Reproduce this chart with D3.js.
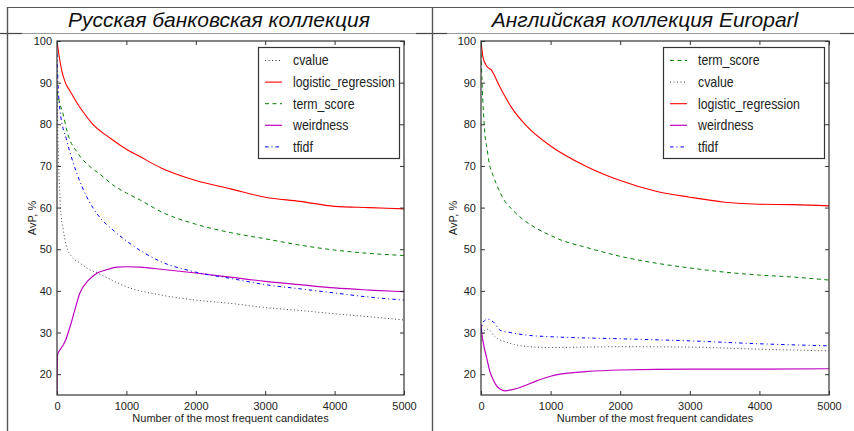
<!DOCTYPE html>
<html>
<head>
<meta charset="utf-8">
<script src="https://cdn.jsdelivr.net/npm/d3@7"></script>
<style>
  body { margin: 0; background: #fff; }
  svg { display: block; }
  text { font-family: "Liberation Sans", Arial, sans-serif; fill: #222; }
  .title { font-style: italic; font-size: 21px; fill: #111; }
  .tick text { font-size: 11px; }
  .axis-label { font-size: 11px; }
  .legend text { font-size: 14px; }
</style>
</head>
<body>
<div id="chart"></div>
<script>
// x ticks / y ticks shared by both panels
const xTicks = [0, 1000, 2000, 3000, 4000, 5000];
const yTicks = [20, 30, 40, 50, 60, 70, 80, 90, 100];

// Russian banking collection: [candidates, AvP %]
const ruCvalue = [[0, 92], [10, 80], [25, 70], [50, 60], [87, 55], [140, 50.5], [200, 48.5], [330, 46.7], [450, 45.3], [620, 44], [800, 42.5], [1000, 41], [1500, 39], [2000, 37.8], [2500, 37], [3000, 36], [3500, 35.3], [4000, 34.5], [4500, 33.8], [5000, 33]];
const ruLogistic = [[0, 100], [25, 97], [67, 93], [120, 90], [187, 88], [300, 84.8], [375, 83], [500, 80.3], [764, 76.7], [1000, 74], [1200, 72.2], [1500, 69.5], [2000, 66.5], [2500, 64.5], [3000, 62.5], [3500, 61.5], [4000, 60.3], [4500, 60], [5000, 59.7]];
const ruTerm = [[0, 88], [40, 85], [87, 82.5], [150, 78], [303, 73], [500, 69.5], [620, 68], [800, 65.5], [1000, 63.5], [1200, 61.8], [1500, 59], [2000, 56], [2500, 54], [3000, 52.5], [3500, 51], [4000, 49.8], [4500, 49], [5000, 48.5]];
const ruWeird = [[0, 15], [5, 24.5], [50, 26], [90, 27], [120, 28], [190, 31.5], [250, 35], [330, 39.5], [450, 42.5], [570, 44.2], [700, 45], [860, 45.7], [1000, 45.8], [1200, 45.7], [1500, 45.2], [2000, 44.3], [2500, 43.3], [3000, 42.3], [3500, 41.5], [4000, 40.7], [4500, 40.2], [5000, 39.8]];
const ruTfidf = [[0, 97], [20, 88], [43, 83.4], [139, 76.2], [284, 68.3], [428, 62.6], [600, 58], [808, 54.6], [1000, 52], [1500, 47], [2000, 44.5], [2500, 43], [3000, 41.5], [3500, 40.5], [4000, 39.5], [4500, 38.5], [5000, 37.8]];

// English Europarl collection
const enTerm = [[0, 97], [15, 90], [35, 83], [60, 77], [82, 74.7], [120, 70.5], [178, 67.5], [250, 64.5], [325, 62], [450, 59.5], [600, 57.2], [800, 55], [1000, 53.3], [1135, 52.3], [1500, 50.5], [2000, 48.3], [2500, 46.7], [3000, 45.5], [3500, 44.5], [4000, 43.8], [4500, 43.3], [5000, 42.6]];
const enCvalue = [[0, 28], [50, 30.5], [100, 30.8], [200, 29], [400, 27.5], [700, 26.6], [1000, 26.4], [1500, 26.5], [2000, 26.6], [3000, 26.5], [4000, 26], [5000, 25.6]];
const enLogistic = [[0, 100], [30, 96], [80, 94], [150, 93], [270, 89], [440, 84], [660, 79.5], [1000, 74.8], [1500, 70], [2000, 66.5], [2500, 64], [3000, 62.5], [3500, 61.3], [4000, 60.8], [4500, 60.7], [5000, 60.4]];
const enWeird = [[0, 32], [10, 30], [33, 27.5], [80, 24], [130, 20.5], [180, 18.5], [225, 17.2], [300, 16.2], [345, 16], [450, 16.3], [560, 16.8], [800, 18.4], [1000, 19.5], [1135, 20], [1500, 20.6], [2000, 21], [3000, 21.2], [4000, 21.2], [5000, 21.3]];
const enTfidf = [[0, 30], [30, 32.5], [100, 33.2], [180, 32.5], [280, 30.5], [420, 30], [700, 29.3], [1000, 29], [2000, 28.5], [3000, 28], [4000, 27.3], [5000, 26.8]];

const styles = {
  cvalue: { color: "#444", dash: "1,2.5", width: 1 },
  logistic_regression: { color: "#ff0000", dash: null, width: 1.1 },
  term_score: { color: "#008000", dash: "4,3.5", width: 1 },
  weirdness: { color: "#bf00bf", dash: null, width: 1.2 },
  tfidf: { color: "#0000ff", dash: "3.5,3,1,3", width: 1 },
};

const panels = [
  {
    title: "Русская банковская коллекция", titleX: 219,
    left: 57, right: 404, labelX: 32, legendX: 258, legendW: 141,
    series: [["cvalue", ruCvalue], ["logistic_regression", ruLogistic], ["term_score", ruTerm], ["weirdness", ruWeird], ["tfidf", ruTfidf]],
  },
  {
    title: "Английская коллекция Europarl", titleX: 645,
    left: 481, right: 829, labelX: 453, legendX: 663, legendW: 161,
    series: [["term_score", enTerm], ["cvalue", enCvalue], ["logistic_regression", enLogistic], ["weirdness", enWeird], ["tfidf", enTfidf]],
  },
];

const width = 854, height = 431;
const plotTop = 41, plotBottom = 395;

const svg = d3.select("#chart").append("svg")
  .attr("width", width).attr("height", height);

// table frame around the two panels
const frame = svg.append("g").attr("class", "frame");
frame.append("line").attr("x1", 7).attr("x2", width).attr("y1", 7.5).attr("y2", 7.5)
  .attr("stroke", "#555").attr("stroke-width", 1.2);
frame.append("line").attr("x1", 7).attr("x2", width).attr("y1", 33.5).attr("y2", 33.5)
  .attr("stroke", "#999").attr("stroke-width", 1);
[[0, 22], [416, 447], [840, 854]].forEach(([a, b]) => {
  frame.append("line").attr("x1", a).attr("x2", b).attr("y1", 33.5).attr("y2", 33.5)
    .attr("stroke", "#444").attr("stroke-width", 1.2);
});
[7.5, 432.5].forEach((x) => {
  frame.append("line").attr("x1", x).attr("x2", x).attr("y1", 7).attr("y2", height)
    .attr("stroke", "#555").attr("stroke-width", 1.4);
});

panels.forEach((p) => {
  const g = svg.append("g");

  g.append("text").attr("class", "title")
    .attr("x", p.titleX).attr("y", 27)
    .attr("text-anchor", "middle")
    .text(p.title);

  const x = d3.scaleLinear().domain([0, 5000]).range([p.left, p.right]);
  const y = d3.scaleLinear().domain([15, 100]).range([plotBottom, plotTop]);

  const line = d3.line()
    .x((d) => x(d[0]))
    .y((d) => y(d[1]))
    .curve(d3.curveMonotoneX);

  const plot = g.append("g");
  plot.append("defs").append("clipPath").attr("id", "clip" + p.left)
    .append("rect").attr("x", p.left).attr("y", plotTop)
    .attr("width", p.right - p.left).attr("height", plotBottom - plotTop);

  const lines = plot.append("g").attr("clip-path", `url(#clip${p.left})`);
  p.series.forEach(([name, data]) => {
    const s = styles[name];
    lines.append("path")
      .datum(data)
      .attr("fill", "none")
      .attr("stroke", s.color)
      .attr("stroke-width", s.width)
      .attr("stroke-dasharray", s.dash)
      .attr("d", line);
  });

  // axes with inward ticks on all four sides
  const axisBottom = d3.axisBottom(x).tickValues(xTicks).tickFormat(d3.format("d"))
    .tickSizeInner(-4).tickSizeOuter(0).tickPadding(7);
  const axisTop = d3.axisTop(x).tickValues(xTicks).tickSizeInner(-4).tickSizeOuter(0).tickFormat("");
  const axisLeft = d3.axisLeft(y).tickValues(yTicks).tickSizeInner(-4).tickSizeOuter(0).tickPadding(5);
  const axisRight = d3.axisRight(y).tickValues(yTicks).tickSizeInner(-4).tickSizeOuter(0).tickFormat("");

  const styleAxis = (sel) => {
    sel.select(".domain").remove();
    sel.selectAll(".tick line").attr("stroke", "#333");
    sel.selectAll(".tick text").attr("fill", "#222");
    sel.attr("font-family", null).attr("font-size", null);
  };
  g.append("g").attr("transform", `translate(0,${plotBottom})`).call(axisBottom).call(styleAxis);
  g.append("g").attr("transform", `translate(0,${plotTop})`).call(axisTop).call(styleAxis);
  g.append("g").attr("transform", `translate(${p.left},0)`).call(axisLeft).call(styleAxis);
  g.append("g").attr("transform", `translate(${p.right},0)`).call(axisRight).call(styleAxis);

  g.append("rect")
    .attr("x", p.left).attr("y", plotTop)
    .attr("width", p.right - p.left).attr("height", plotBottom - plotTop)
    .attr("fill", "none").attr("stroke", "#333").attr("stroke-width", 1.2);

  g.append("text").attr("class", "axis-label")
    .attr("x", (p.left + p.right) / 2).attr("y", 422)
    .attr("text-anchor", "middle")
    .text("Number of the most frequent candidates");

  g.append("text").attr("class", "axis-label")
    .attr("transform", `translate(${p.labelX},${(plotTop + plotBottom) / 2}) rotate(-90)`)
    .attr("text-anchor", "middle")
    .attr("dy", "0.35em")
    .text("AvP, %");

  // legend
  const lg = g.append("g").attr("class", "legend");
  lg.append("rect")
    .attr("x", p.legendX + 0.5).attr("y", 47.5)
    .attr("width", p.legendW).attr("height", 111)
    .attr("fill", "#fff").attr("stroke", "#333").attr("stroke-width", 1.2);
  p.series.forEach(([name], i) => {
    const s = styles[name];
    const ly = 60.5 + i * 21.6;
    lg.append("line")
      .attr("x1", p.legendX + 7).attr("x2", p.legendX + 24)
      .attr("y1", ly).attr("y2", ly)
      .attr("stroke", s.color).attr("stroke-width", s.width)
      .attr("stroke-dasharray", s.dash);
    lg.append("text")
      .attr("transform", `translate(${p.legendX + 35},${ly}) scale(0.88,1)`)
      .attr("dy", "0.35em")
      .text(name);
  });
});
</script>
</body>
</html>
